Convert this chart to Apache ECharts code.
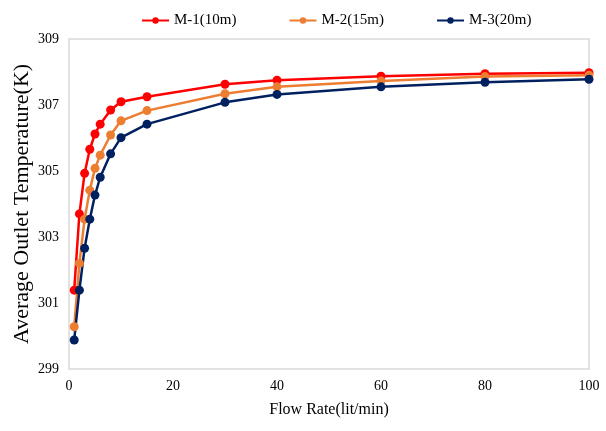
<!DOCTYPE html>
<html>
<head>
<meta charset="utf-8">
<script src="https://cdn.jsdelivr.net/npm/echarts@6/dist/echarts.min.js"></script>
<style>html,body{margin:0;padding:0;background:#fff;}#c{width:606px;height:431px;}</style>
</head>
<body>
<div id="c"></div>
<script>
const flowRates = [1, 2, 3, 4, 5, 6, 8, 10, 15, 30, 40, 60, 80, 100];
const m1 = [301.39, 303.7, 304.93, 305.66, 306.12, 306.42, 306.85, 307.1, 307.25, 307.63, 307.75, 307.87, 307.95, 307.98];
const m2 = [300.28, 302.2, 303.54, 304.42, 305.08, 305.48, 306.09, 306.52, 306.83, 307.34, 307.55, 307.73, 307.86, 307.9];
const m3 = [299.88, 301.39, 302.66, 303.54, 304.27, 304.81, 305.52, 306.01, 306.42, 307.08, 307.32, 307.55, 307.69, 307.78];
const seriesNames = ['M-1(10m)', 'M-2(15m)', 'M-3(20m)'];
const seriesColors = ['#ff0000', '#ed7d31', '#002060'];
const yLabels = [299, 301, 303, 305, 307, 309];

const font = 'Liberation Serif, Times New Roman, serif';
const chart = echarts.init(document.getElementById('c'));
const mk = (name, vals, color) => ({
  name: name,
  type: 'line',
  data: flowRates.map((x, i) => [x, vals[i]]),
  symbol: 'circle',
  symbolSize: 9,
  lineStyle: { width: 2.5, color: color },
  itemStyle: { color: color },
  emphasis: { disabled: true }
});
chart.setOption({
  animation: false,
  backgroundColor: '#fff',
  legend: {
    top: 8,
    left: 136,
    itemGap: 52,
    itemWidth: 27,
    itemHeight: 8,
    textStyle: { fontFamily: font, fontSize: 15, color: '#000' },
    data: seriesNames
  },
  grid: {
    left: 69, top: 39, width: 520, height: 330,
    outerBoundsMode: 'none', containLabel: false,
    show: true, borderColor: '#d9d9d9', borderWidth: 1.5
  },
  xAxis: {
    type: 'value', min: 0, max: 100, interval: 20,
    name: 'Flow Rate(lit/min)', nameLocation: 'middle', nameGap: 33,
    nameTextStyle: { fontFamily: font, fontSize: 16, color: '#000' },
    axisLine: { show: false }, axisTick: { show: false }, splitLine: { show: false },
    axisLabel: { fontFamily: font, fontSize: 14, color: '#000', margin: 10 }
  },
  yAxis: {
    type: 'value', min: 299, max: 309, interval: 1,
    name: 'Average Outlet Temperature(K)', nameLocation: 'middle', nameGap: 36,
    nameMoveOverlap: false,
    nameTextStyle: { fontFamily: font, fontSize: 22, color: '#000' },
    axisLine: { show: false }, axisTick: { show: false }, splitLine: { show: false },
    axisLabel: {
      fontFamily: font, fontSize: 14, color: '#000', margin: 10,
      formatter: v => (yLabels.indexOf(Math.round(v)) >= 0 ? String(Math.round(v)) : '')
    }
  },
  series: [
    mk(seriesNames[0], m1, seriesColors[0]),
    mk(seriesNames[1], m2, seriesColors[1]),
    mk(seriesNames[2], m3, seriesColors[2])
  ]
});
</script>
</body>
</html>
